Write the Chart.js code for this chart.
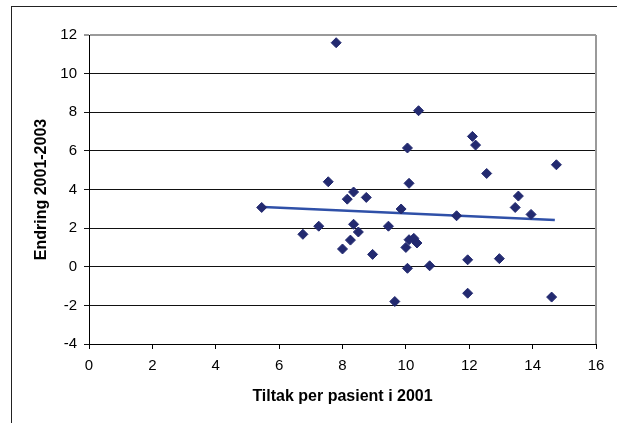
<!DOCTYPE html>
<html>
<head>
<meta charset="utf-8">
<script src="https://cdn.jsdelivr.net/npm/chart.js@4/dist/chart.umd.min.js"></script>
<style>
  html, body { margin: 0; padding: 0; background: #fff; overflow: hidden; }
  #frame { position: absolute; left: 11px; top: 6px; width: 640px; height: 460px; border: 1px solid #222; }
  #chart { position: absolute; left: 0; top: 0; }
</style>
</head>
<body>
<div id="frame"></div>
<canvas id="chart" width="617" height="423"></canvas>
<script>
// Tiltak per pasient i 2001 (x) vs Endring 2001-2003 (y)
var tiltak = [7.8, 10.4, 12.1, 12.2, 10.05, 14.75, 12.55, 7.55, 10.1, 8.35,
  13.55, 8.75, 8.15, 13.45, 9.85, 13.95, 11.6, 7.25, 9.45, 8.35,
  8.5, 6.75, 10.1, 10.25, 10.35, 8.25, 8.0, 10.0, 8.95, 12.95,
  11.95, 10.75, 10.05, 11.95, 14.6, 9.65, 5.45];
var endring = [11.6, 8.08, 6.75, 6.3, 6.15, 5.28, 4.83, 4.4, 4.32, 3.87,
  3.66, 3.59, 3.5, 3.07, 2.99, 2.71, 2.64, 2.1, 2.1, 2.2,
  1.8, 1.68, 1.4, 1.47, 1.23, 1.38, 0.92, 1.0, 0.64, 0.42,
  0.36, 0.05, -0.08, -1.37, -1.57, -1.8, 3.07];
// trend line ends
var trendX = [5.5, 14.7];
var trendY = [3.1, 2.42];

var points = tiltak.map(function (x, i) { return { x: x, y: endring[i] }; });
var trend = trendX.map(function (x, i) { return { x: x, y: trendY[i] }; });

var font = { family: '"Liberation Sans", Arial, sans-serif', size: 15 };
var boldFont = { family: '"Liberation Sans", Arial, sans-serif', size: 16, weight: 'bold' };

var rightBorder = {
  id: 'rightBorder',
  afterDraw: function (chart) {
    var a = chart.chartArea, c = chart.ctx;
    c.save();
    c.strokeStyle = '#9a9a9a';
    c.lineWidth = 2;
    c.beginPath();
    c.moveTo(a.right, a.top);
    c.lineTo(a.right, a.bottom);
    c.stroke();
    c.restore();
  }
};

var ctx = document.getElementById('chart').getContext('2d');
var chart = new Chart(ctx, {
  type: 'scatter',
  data: {
    datasets: [{
      label: 'Endring',
      data: points,
      pointStyle: 'rectRot',
      pointRadius: 5,
      backgroundColor: '#232a70',
      borderColor: '#232a70',
      borderWidth: 1
    }, {
      label: 'Trend',
      type: 'line',
      data: trend,
      borderColor: '#2f50a8',
      borderWidth: 2.5,
      pointRadius: 0,
      fill: false
    }]
  },
  options: {
    responsive: false,
    animation: false,
    layout: { padding: { left: 0, right: 21, top: 35, bottom: 0 } },
    plugins: { legend: { display: false }, tooltip: { enabled: false } },
    scales: {
      x: {
        type: 'linear',
        min: 0, max: 16,
        ticks: { stepSize: 2, color: '#000', font: font, padding: 8 },
        grid: { drawOnChartArea: false, drawTicks: true, tickLength: 5, color: '#000' },
        border: { color: '#000', width: 1 },
        title: { display: true, text: 'Tiltak per pasient i 2001', color: '#000', font: boldFont, padding: { top: 17, bottom: 17 } },
        afterFit: function (s) { s.height = 79; }
      },
      y: {
        min: -4, max: 12,
        ticks: { stepSize: 2, color: '#000', font: font, padding: 7 },
        grid: {
          tickLength: 5,
          color: function (c) { return c.tick && c.tick.value === 12 ? '#9a9a9a' : '#111'; },
          lineWidth: function (c) { return c.tick && c.tick.value === 12 ? 2 : 1; }
        },
        border: { color: '#000', width: 1 },
        title: { display: true, text: 'Endring 2001-2003', color: '#000', font: boldFont, padding: { top: 32, bottom: 32 } },
        afterFit: function (s) { s.width = 89; }
      }
    }
  },
  plugins: [rightBorder]
});
</script>
</body>
</html>
